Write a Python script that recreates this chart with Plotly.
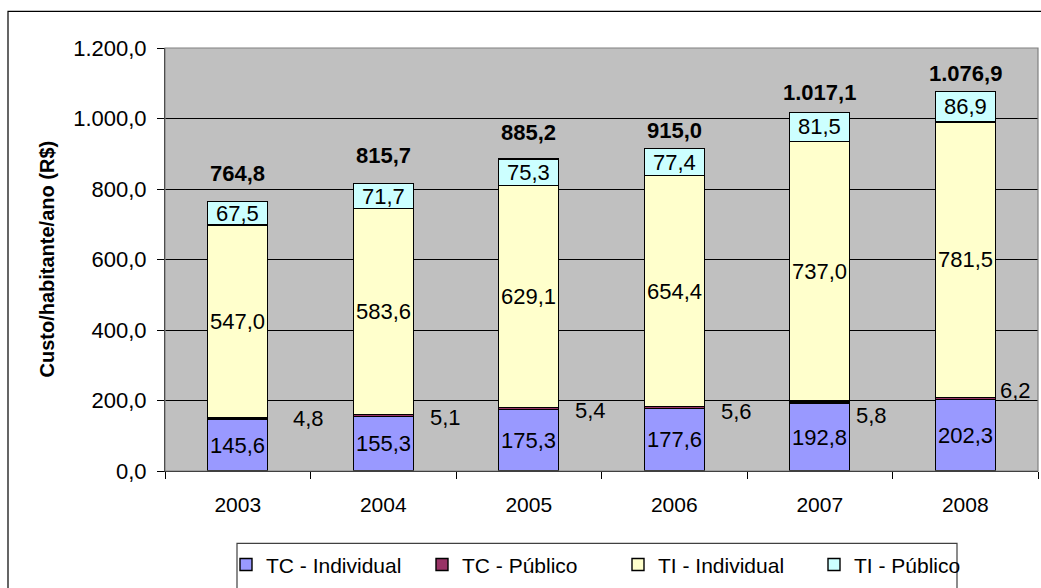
import plotly.graph_objects as go

# Custo por habitante por ano (R$), por modo de transporte
years = ["2003", "2004", "2005", "2006", "2007", "2008"]
tc_individual = [145.6, 155.3, 175.3, 177.6, 192.8, 202.3]
tc_publico = [4.8, 5.1, 5.4, 5.6, 5.8, 6.2]
ti_individual = [547.0, 583.6, 629.1, 654.4, 737.0, 781.5]
ti_publico = [67.5, 71.7, 75.3, 77.4, 81.5, 86.9]
totals = [764.8, 815.7, 885.2, 915.0, 1017.1, 1076.9]

series_names = ["TC - Individual", "TC - Público", "TI - Individual", "TI - Público"]
series_values = [tc_individual, tc_publico, ti_individual, ti_publico]
series_colors = ["#9999FF", "#993366", "#FFFFCC", "#CCFFFF"]

FONT = "Liberation Sans, Arial, sans-serif"

# pixel nudges for the small-segment and total labels
small_dx = [71, 62, 62, 62, 52, 50]
small_dy = [0, -2, -2, -4, -13, 8]
total_dy = [28, 28, 26, 18, 20, 18]


def br(v):
    """Format a number the Brazilian way: 1.076,9"""
    s = f"{v:,.1f}"
    return s.replace(",", "X").replace(".", ",").replace("X", ".")


fig = go.Figure()
for name, vals, col in zip(series_names, series_values, series_colors):
    fig.add_trace(go.Bar(
        x=years, y=vals, name=name,
        marker=dict(color=col, line=dict(color="black", width=1.4)),
        hoverinfo="x+y+name",
    ))

annotations = []
# labels centred in each segment (the thin TC - Público one sits beside the bar);
# on the category axis, position i is the i-th year
for i, yr in enumerate(years):
    base = 0.0
    for k, vals in enumerate(series_values):
        v = vals[i]
        mid = base + v / 2
        if k == 1:
            annotations.append(dict(
                x=i, y=mid, xref="x", yref="y", text=br(v), showarrow=False,
                xshift=small_dx[i], yshift=small_dy[i],
                font=dict(family=FONT, size=22, color="black")))
        else:
            annotations.append(dict(
                x=i, y=mid, xref="x", yref="y", text=br(v), showarrow=False,
                font=dict(family=FONT, size=22, color="black")))
        base += v
    annotations.append(dict(
        x=i, y=totals[i], xref="x", yref="y", text="<b>" + br(totals[i]) + "</b>",
        showarrow=False, yshift=total_dy[i], yanchor="middle",
        font=dict(family=FONT, size=22, color="black")))

# y-axis title
annotations.append(dict(
    x=(46 - 165) / 873, y=0.5, xref="paper", yref="paper",
    xanchor="center", yanchor="middle",
    text="<b>Custo/habitante/ano (R$)</b>", textangle=-90, showarrow=False,
    font=dict(family=FONT, size=20, color="black")))

shapes = [
    # chart frame
    dict(type="rect", xref="paper", yref="paper",
         x0=(8 - 165) / 873, x1=(1060 - 165) / 873,
         y0=1 - (620 - 48) / 427, y1=1 - (11 - 48) / 427,
         line=dict(color="black", width=1.2), fillcolor="rgba(0,0,0,0)", layer="below"),
    # plot-area frame
    dict(type="rect", xref="paper", yref="paper", x0=0, x1=1, y0=0, y1=1,
         line=dict(color="#808080", width=1.2), fillcolor="rgba(0,0,0,0)"),
    # legend box
    dict(type="rect", xref="paper", yref="paper",
         x0=(237 - 165) / 873, x1=(957 - 165) / 873,
         y0=1 - (610 - 48) / 427, y1=1 - (548 - 48) / 427,
         line=dict(color="#404040", width=1.2), fillcolor="white"),
]

fig.update_layout(
    width=1041, height=588,
    margin=dict(l=165, r=3, t=48, b=113),
    barmode="stack", bargap=0.588,
    paper_bgcolor="white", plot_bgcolor="#C0C0C0",
    separators=",.",
    font=dict(family=FONT, size=20, color="black"),
    showlegend=True,
    legend=dict(orientation="h", x=(226 - 165) / 873, xanchor="left",
                y=1 - (549 - 48) / 427, yanchor="top",
                bgcolor="rgba(0,0,0,0)", borderwidth=0,
                entrywidth=151, entrywidthmode="pixels",
                font=dict(family=FONT, size=21, color="black"),
                traceorder="normal"),
    annotations=annotations,
    shapes=shapes,
)
fig.update_xaxes(
    type="category", range=[-0.5, len(years) - 0.5], autorange=False,
    showgrid=False, showline=True, linecolor="black", linewidth=1,
    ticks="outside", tickson="boundaries", ticklen=7, tickcolor="black",
    ticklabelstandoff=15, tickfont=dict(family=FONT, size=21),
)
fig.update_yaxes(
    range=[0, 1200], autorange=False, dtick=200, tickformat=",.1f",
    showgrid=True, gridcolor="black", gridwidth=1,
    showline=True, linecolor="black", linewidth=1,
    ticks="outside", ticklen=7, tickcolor="black",
    ticklabelstandoff=6, tickfont=dict(family=FONT, size=22),
    zeroline=False,
)

fig.write_html("out.html")
